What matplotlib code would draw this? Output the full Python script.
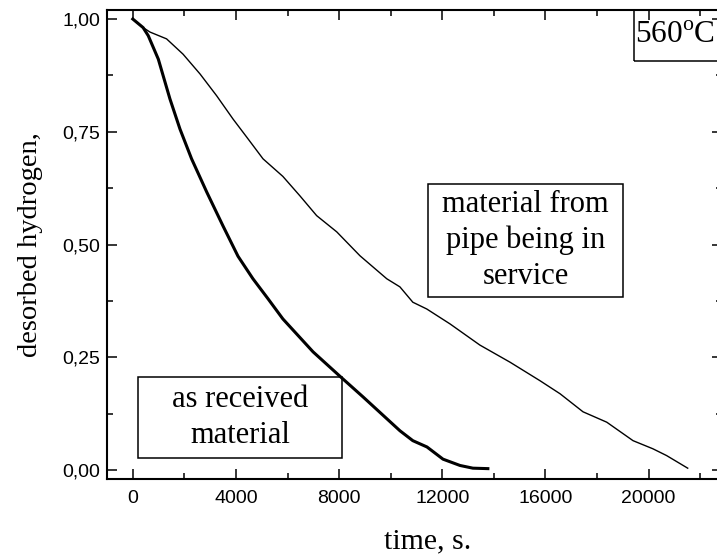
import matplotlib
matplotlib.use('Agg')
import matplotlib.pyplot as plt
from matplotlib.ticker import MultipleLocator, FuncFormatter
from matplotlib.patches import Rectangle

# as received material (thick line)
t_received = [0, 400, 600, 990, 1440, 1830, 2280, 2870, 3500, 4080, 4660, 5240, 5820,
              6990, 8030, 8930, 10360, 10860, 11410, 12030, 12690, 13190, 13770]
h_received = [1.0, 0.981, 0.963, 0.911, 0.823, 0.756, 0.690, 0.616, 0.541, 0.474, 0.424,
              0.380, 0.335, 0.262, 0.208, 0.162, 0.087, 0.065, 0.051, 0.024, 0.010, 0.004, 0.003]

# material from pipe being in service (thin line)
t_service = [0, 400, 670, 1310, 1950, 2610, 3250, 3890, 4420, 5050, 5820, 6480, 7130, 7910,
             8810, 9850, 10360, 10860, 11400, 12300, 13460, 14630, 15790, 16570, 17460,
             18380, 19400, 20170, 20700, 21520]
h_service = [1.0, 0.981, 0.971, 0.956, 0.922, 0.878, 0.830, 0.778, 0.738, 0.690, 0.651, 0.608,
             0.564, 0.528, 0.475, 0.424, 0.406, 0.372, 0.357, 0.324, 0.277, 0.239, 0.198,
             0.169, 0.129, 0.106, 0.065, 0.047, 0.032, 0.004]

plt.rcParams['mathtext.fontset'] = 'custom'
plt.rcParams['mathtext.rm'] = 'Liberation Serif'

serif = 'Liberation Serif'
sans = 'Liberation Sans'

fig = plt.figure(figsize=(7.17, 5.56), dpi=100)
ax = fig.add_axes([107 / 717, 77 / 556, 615 / 717, 469 / 556])

ax.plot(t_service, h_service, color='black', lw=1.0)
ax.plot(t_received, h_received, color='black', lw=2.2)

ax.set_xlim(-1000, 22850)
ax.set_ylim(-0.02, 1.02)

ax.xaxis.set_major_locator(MultipleLocator(4000))
ax.xaxis.set_minor_locator(MultipleLocator(2000))
ax.yaxis.set_major_locator(MultipleLocator(0.25))
ax.yaxis.set_minor_locator(MultipleLocator(0.125))
ax.yaxis.set_major_formatter(FuncFormatter(lambda v, p: ('%.2f' % v).replace('.', ',')))

ax.tick_params(which='both', direction='in', top=True, right=True, width=1.1)
ax.tick_params(which='major', length=7)
ax.tick_params(which='minor', length=4)
ax.tick_params(axis='x', which='major', pad=8)
ax.tick_params(axis='y', which='major', pad=5)
for lab in ax.get_xticklabels() + ax.get_yticklabels():
    lab.set_fontfamily(sans)
    lab.set_fontsize(14)

for s in ax.spines.values():
    s.set_linewidth(1.5)

# annotation boxes
ax.add_patch(Rectangle((0.522, 0.388), 0.317, 0.241, transform=ax.transAxes,
                       fill=False, lw=1.1, color='black'))
ax.text(0.6805, 0.5085, 'material from\npipe being in\nservice', transform=ax.transAxes,
        ha='center', va='center', family=serif, fontsize=22, linespacing=1.3)

ax.add_patch(Rectangle((0.0504, 0.0448), 0.3316, 0.1727, transform=ax.transAxes,
                       fill=False, lw=1.1, color='black'))
ax.text(0.2163, 0.131, 'as received\nmaterial', transform=ax.transAxes,
        ha='center', va='center', family=serif, fontsize=22, linespacing=1.3)

ax.add_patch(Rectangle((0.857, 0.891), 0.143, 0.109, transform=ax.transAxes,
                       fill=False, lw=1.1, color='black'))
ax.text(0.9236, 0.929, r'560$^{\mathrm{o}}$C', transform=ax.transAxes,
        ha='center', va='baseline', family=serif, fontsize=22.5)

fig.text(31 / 717, 1 - 245 / 556, 'desorbed hydrogen,', rotation=90, ha='center', va='center',
         family=serif, fontsize=20.5)
fig.text(428 / 717, 1 - 548 / 556, 'time, s.', ha='center', va='baseline',
         family=serif, fontsize=21.5)

fig.savefig('out.png', dpi=100)
